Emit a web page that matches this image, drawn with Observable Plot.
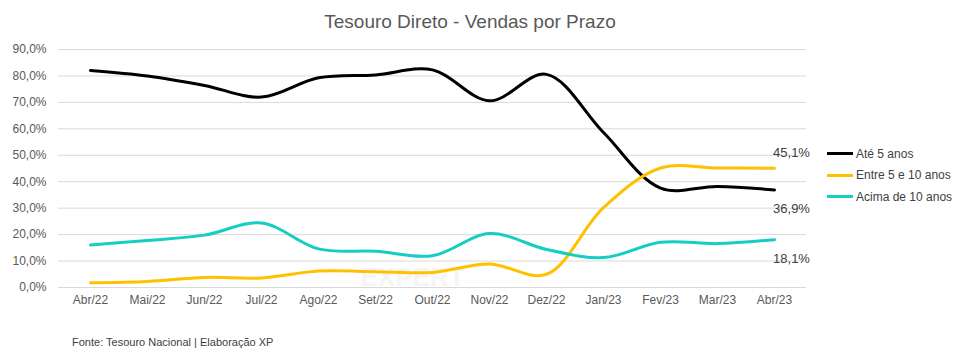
<!DOCTYPE html>
<html>
<head>
<meta charset="utf-8">
<script src="https://cdn.jsdelivr.net/npm/d3@7"></script>
<script src="https://cdn.jsdelivr.net/npm/@observablehq/plot@0.6"></script>
<style>
  html, body { margin: 0; padding: 0; background: #fff; }
  #wrap { position: relative; width: 968px; height: 355px; font-family: "Liberation Sans", Arial, sans-serif; overflow: hidden; }
  #title { position: absolute; left: 0; width: 940px; top: 11px; text-align: center; font-size: 19px; color: #595959; }
  #legend { position: absolute; left: 827px; top: 143px; font-size: 12px; color: #404040; }
  #legend .item { display: flex; align-items: center; height: 21.5px; }
  #legend .sw { width: 26px; height: 3px; margin-right: 3px; }
  #caption { position: absolute; left: 72px; top: 336px; font-size: 11px; color: #404040; }
  #chart { position: absolute; left: 0; top: 0; }
</style>
</head>
<body>
<div id="wrap">
  <div id="chart"></div>
  <div id="title">Tesouro Direto - Vendas por Prazo</div>
  <div id="legend"></div>
  <div id="caption">Fonte: Tesouro Nacional | Elaboração XP</div>
</div>
<script>
const months = ["Abr/22","Mai/22","Jun/22","Jul/22","Ago/22","Set/22","Out/22","Nov/22","Dez/22","Jan/23","Fev/23","Mar/23","Abr/23"];
const seriesNames = ["Até 5 anos","Entre 5 e 10 anos","Acima de 10 anos"];
const ate5 = [82.1, 80.0, 76.4, 72.0, 79.3, 80.4, 82.3, 70.6, 80.6, 58.6, 37.6, 38.2, 36.9];
const entre5e10 = [1.8, 2.3, 3.8, 3.6, 6.2, 6.0, 5.7, 8.9, 5.0, 30.2, 45.2, 45.2, 45.1];
const acima10 = [16.1, 17.8, 19.8, 24.4, 14.6, 13.7, 12.0, 20.4, 14.4, 11.3, 17.1, 16.6, 18.1];
const colors = ["#000000", "#FFC000", "#14CFC1"];
const yTicks = [0, 10, 20, 30, 40, 50, 60, 70, 80, 90];

const fmt = v => v.toFixed(1).replace(".", ",") + "%";
const allSeries = [ate5, entre5e10, acima10];
const data = [];
seriesNames.forEach((s, i) => months.forEach((m, j) => data.push({series: s, month: m, value: allSeries[i][j]})));
const last = seriesNames.map((s, i) => ({series: s, month: months[months.length - 1], value: allSeries[i][months.length - 1]}));

const plot = Plot.plot({
  width: 968,
  height: 355,
  marginLeft: 58,
  marginRight: 162,
  marginTop: 49,
  marginBottom: 68,
  style: {fontFamily: "'Liberation Sans', Arial, sans-serif", fontSize: "12px", color: "#595959", background: "transparent"},
  x: {type: "point", domain: months, padding: 0.5, label: null, tickSize: 0, tickPadding: 8},
  y: {domain: [0, 90], ticks: yTicks, tickFormat: fmt, label: null, tickSize: 0, tickPadding: 12},
  color: {domain: seriesNames, range: colors},
  marks: [
    Plot.ruleY(yTicks, {stroke: "#d9d9d9", strokeWidth: 1}),
    Plot.text(["EXPERT"], {frameAnchor: "bottom", dx: -20, dy: -2, fontSize: 26, fontWeight: "bold", fill: "#f5f5f5", textAnchor: "middle"}),
    Plot.line(data, {x: "month", y: "value", z: "series", stroke: "series", strokeWidth: 3, curve: "catmull-rom"}),
    Plot.text(last.filter(d => d.series === seriesNames[1]), {x: "month", y: "value", text: d => fmt(d.value), dx: 17, dy: -15, fontSize: 13, fill: "#404040"}),
    Plot.text(last.filter(d => d.series !== seriesNames[1]), {x: "month", y: "value", text: d => fmt(d.value), dx: 17, dy: 19, fontSize: 13, fill: "#404040"})
  ]
});
document.getElementById("chart").appendChild(plot);

const legend = document.getElementById("legend");
seriesNames.forEach((s, i) => {
  const item = document.createElement("div");
  item.className = "item";
  const sw = document.createElement("div");
  sw.className = "sw";
  sw.style.background = colors[i];
  const t = document.createElement("span");
  t.textContent = s;
  item.appendChild(sw);
  item.appendChild(t);
  legend.appendChild(item);
});
</script>
</body>
</html>
